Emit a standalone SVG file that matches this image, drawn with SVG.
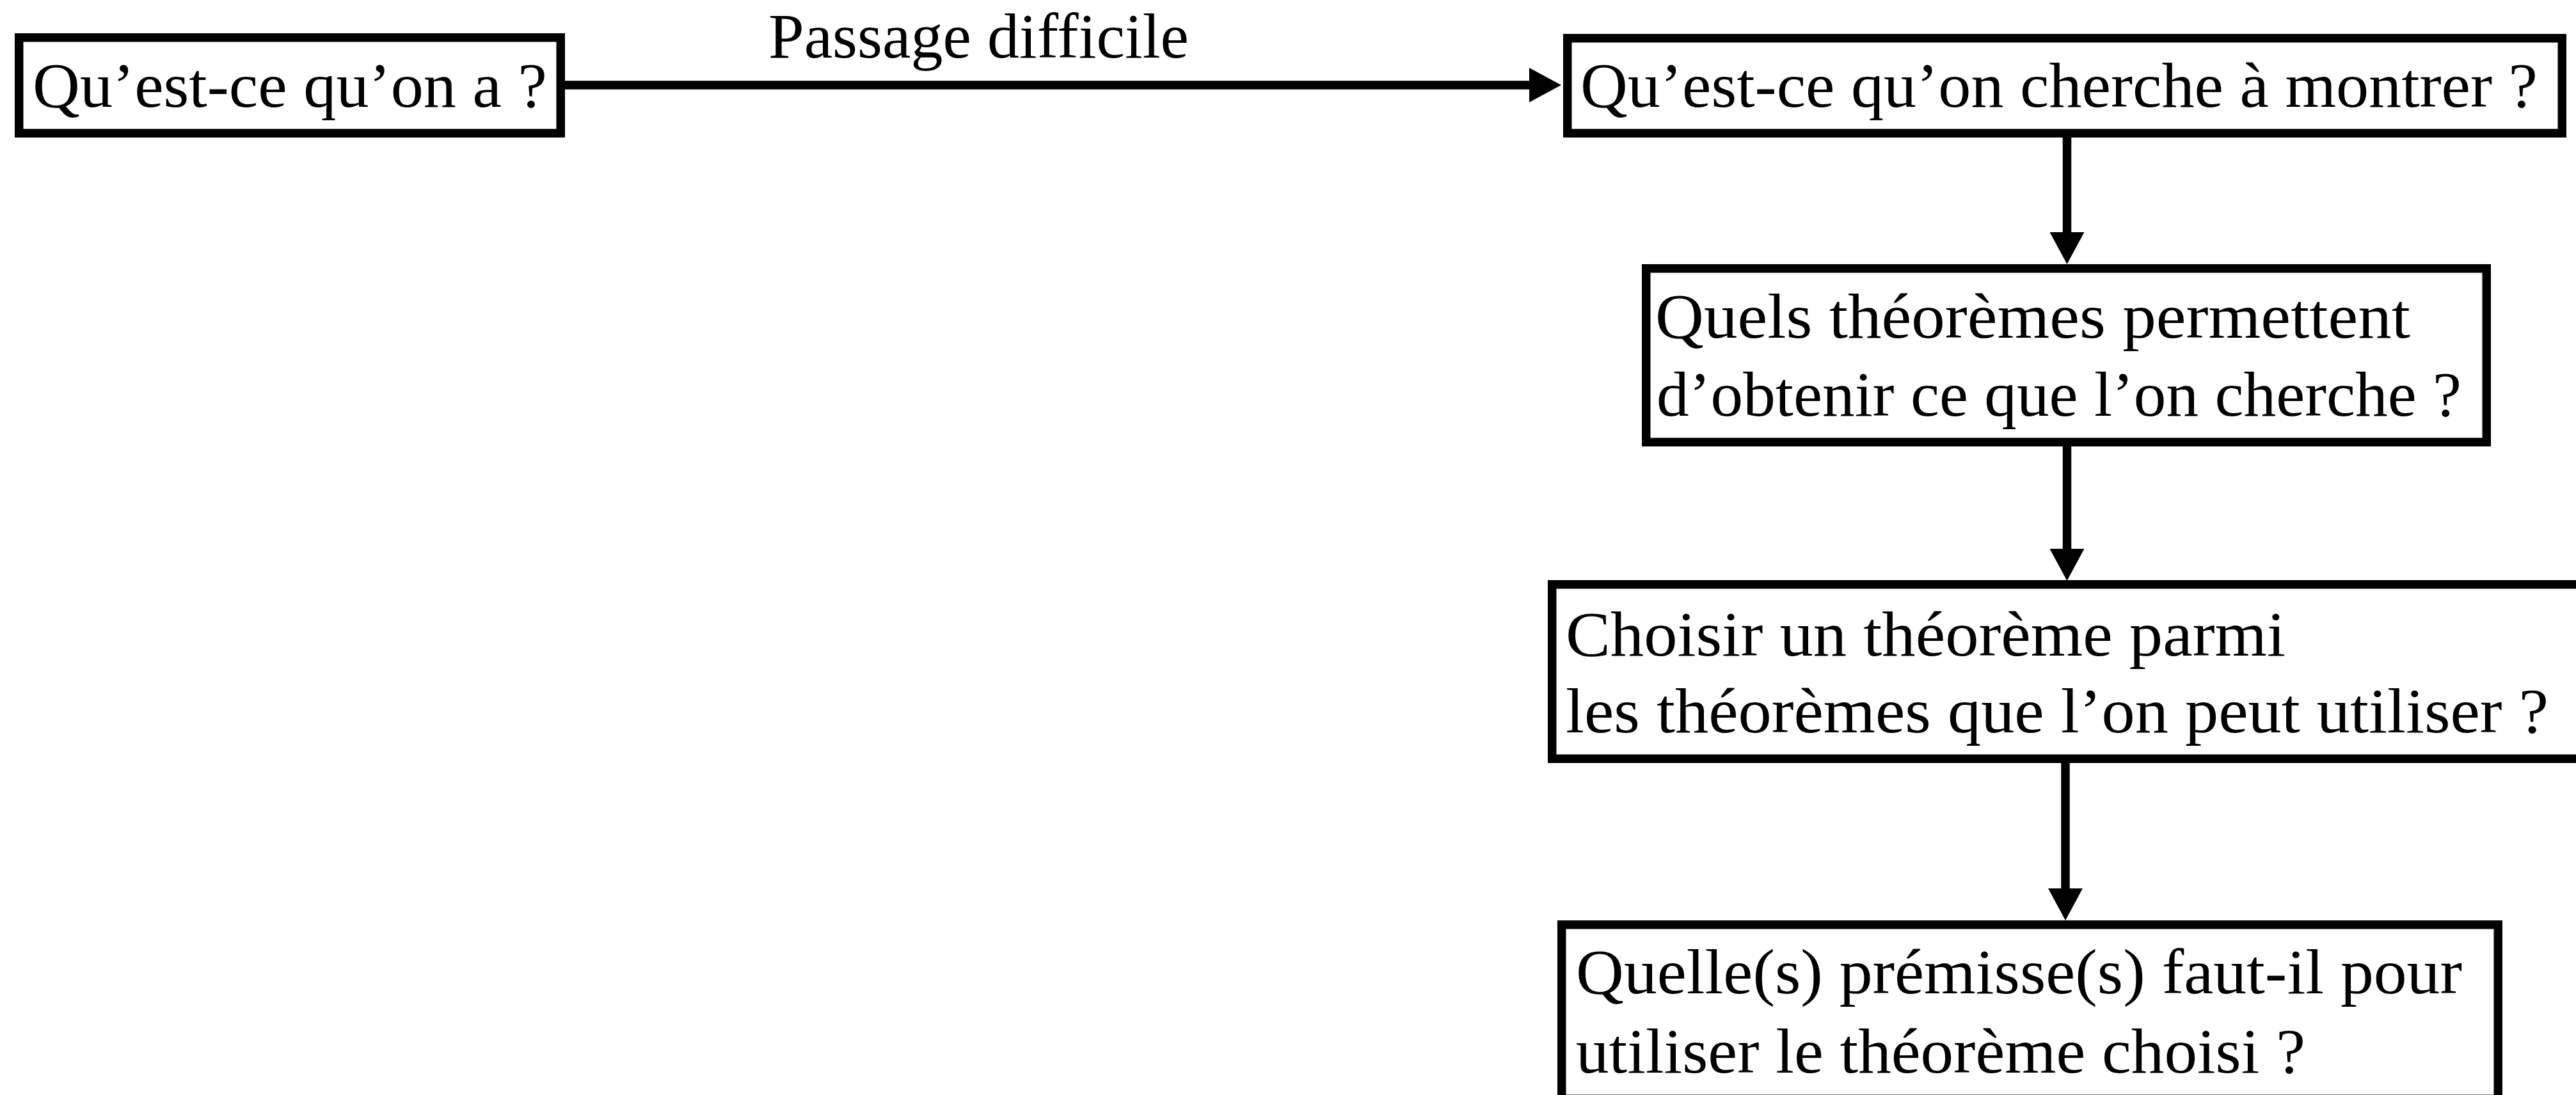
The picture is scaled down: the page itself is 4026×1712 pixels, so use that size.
<svg xmlns="http://www.w3.org/2000/svg" width="4026" height="1712" viewBox="0 0 4026 1712">
  <style>
    .box { fill: #ffffff; stroke: #000000; stroke-width: 13.5; }
    .lbl { font-family: "Liberation Serif", "DejaVu Serif", serif; font-size: 100px; fill: #000000; }
    .edge { fill: none; stroke: #000000; stroke-width: 13.5; }
  </style>
  <defs>
    <marker id="head" markerUnits="userSpaceOnUse" markerWidth="60" markerHeight="60" viewBox="0 -30 52 60" refX="2" refY="0" orient="auto">
      <path d="M0,-27 L50,0 L0,27 Z" fill="#000000"/>
    </marker>
  </defs>

  <rect width="4026" height="1712" fill="#ffffff"/>

  <!-- nodes -->
  <g id="node-donnees">
    <rect class="box" x="29.75" y="58.75" width="846.5" height="149.5"/>
    <text class="lbl" x="51" y="167" textLength="804" lengthAdjust="spacingAndGlyphs">Qu’est-ce qu’on a ?</text>
  </g>

  <g id="node-but">
    <rect class="box" x="2449.75" y="59.75" width="1554.5" height="148.5"/>
    <text class="lbl" x="2470" y="167" textLength="1496" lengthAdjust="spacingAndGlyphs">Qu’est-ce qu’on cherche à montrer ?</text>
  </g>

  <g id="node-theoremes">
    <rect class="box" x="2572.75" y="419.75" width="1313.5" height="271.5"/>
    <text class="lbl" x="2587" y="528" textLength="1180" lengthAdjust="spacingAndGlyphs">Quels théorèmes permettent</text>
    <text class="lbl" x="2589" y="650" textLength="1258" lengthAdjust="spacingAndGlyphs">d’obtenir ce que l’on cherche ?</text>
  </g>

  <g id="node-choix">
    <rect class="box" x="2425.75" y="913.75" width="1620" height="272.5"/>
    <text class="lbl" x="2447" y="1025" textLength="1125" lengthAdjust="spacingAndGlyphs">Choisir un théorème parmi</text>
    <text class="lbl" x="2447" y="1145" textLength="1536" lengthAdjust="spacingAndGlyphs">les théorèmes que l’on peut utiliser ?</text>
  </g>

  <g id="node-premisses">
    <rect class="box" x="2440.75" y="1445.75" width="1463.5" height="272.5"/>
    <text class="lbl" x="2463" y="1553" textLength="1385" lengthAdjust="spacingAndGlyphs">Quelle(s) prémisse(s) faut-il pour</text>
    <text class="lbl" x="2463" y="1677" textLength="1140" lengthAdjust="spacingAndGlyphs">utiliser le théorème choisi ?</text>
  </g>

  <!-- connectors -->
  <g id="connectors">
    <path class="edge" d="M883,133 L2392,133" marker-end="url(#head)"/>
    <text class="lbl" x="1201" y="90" textLength="657" lengthAdjust="spacingAndGlyphs">Passage difficile</text>
    <path class="edge" d="M3230.5,215 L3230.5,365" marker-end="url(#head)"/>
    <path class="edge" d="M3230.5,698 L3230.5,860" marker-end="url(#head)"/>
    <path class="edge" d="M3228,1193 L3228,1391" marker-end="url(#head)"/>
  </g>
</svg>
